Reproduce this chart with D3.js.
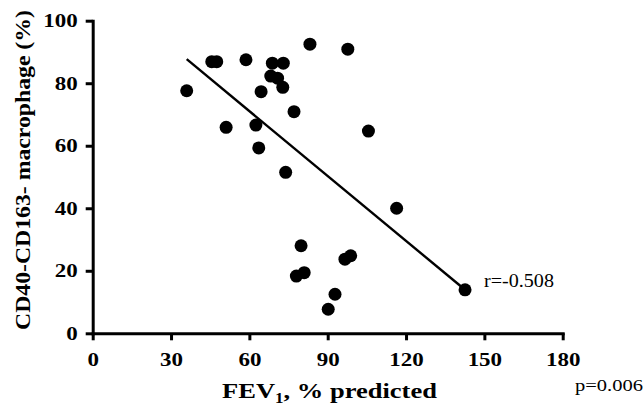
<!DOCTYPE html>
<html>
<head>
<meta charset="utf-8">
<script src="https://cdn.jsdelivr.net/npm/d3@7"></script>
<style>
  html, body { margin: 0; padding: 0; background: #fff; }
  svg { display: block; }
  text { font-family: "Liberation Serif", Tinos, "Times New Roman", Times, serif; fill: #000; }
</style>
</head>
<body>
<script>
// FEV1 (% predicted) against CD40-CD163- macrophage share (%)
const fev1 = [36.0, 45.6, 47.5, 58.7, 68.8, 73.0, 83.2, 68.2, 70.8, 72.8,
              64.5, 77.1, 51.1, 62.5, 63.6, 73.9, 97.7, 105.6, 116.4, 142.6,
              79.8, 78.0, 81.0, 96.6, 98.8, 92.8, 90.2];
const macrophage = [77.6, 86.9, 86.9, 87.5, 86.4, 86.4, 92.5, 82.3, 81.6, 78.7,
                    77.3, 70.9, 65.9, 66.6, 59.3, 51.5, 90.9, 64.7, 40.0, 13.9,
                    28.0, 18.3, 19.4, 23.7, 24.8, 12.5, 7.7];
const xTicks = [0, 30, 60, 90, 120, 150, 180];
const yTicks = [0, 20, 40, 60, 80, 100];
// Linear regression line: y = intercept + slope * x
const fitSlope = -0.692;
const fitIntercept = 112.6;
const rLabel = "r=-0.508";
const pLabel = "p=0.006";

const W = 643, H = 405;
const svg = d3.select("body").append("svg").attr("width", W).attr("height", H);

const x = d3.scaleLinear().domain([0, 180]).range([92.7, 562.7]);
const y = d3.scaleLinear().domain([0, 100]).range([333.3, 20.7]);

// horizontal scale factor that brings a text node to a given width
const widthFactor = (node, target) => target / node.getComputedTextLength();

// X axis
const gx = svg.append("g")
  .attr("transform", `translate(0,${y(0)})`)
  .call(d3.axisBottom(x).tickValues(xTicks).tickSize(7).tickSizeOuter(0).tickPadding(12));
// Y axis
const gy = svg.append("g")
  .attr("transform", `translate(${x(0)},0)`)
  .call(d3.axisLeft(y).tickValues(yTicks).tickSize(7).tickSizeOuter(0).tickPadding(8));

[gx, gy].forEach(g => {
  g.attr("font-family", null);
  g.select(".domain").attr("stroke", "#000").attr("stroke-width", 3).attr("stroke-linecap", "square");
  g.selectAll(".tick line").attr("stroke", "#000").attr("stroke-width", 3);
  g.selectAll(".tick text")
    .attr("font-size", 19).attr("font-weight", "bold").attr("fill", "#000");
});
// three-digit labels are about 34px wide
const tickStretch = widthFactor(gy.selectAll(".tick text").filter(d => d === 100).node(), 34.5);
gx.selectAll(".tick text").attr("transform", `scale(${tickStretch},1)`);
gy.selectAll(".tick text").attr("x", -15 / tickStretch).attr("transform", `scale(${tickStretch},1)`);

// Regression line across the observed FEV1 range
const xr = d3.extent(fev1);
svg.append("line")
  .attr("x1", x(xr[0])).attr("y1", y(fitIntercept + fitSlope * xr[0]))
  .attr("x2", x(xr[1])).attr("y2", y(fitIntercept + fitSlope * xr[1]))
  .attr("stroke", "#000").attr("stroke-width", 2.4);

// Points
svg.append("g").selectAll("circle")
  .data(fev1.map((v, i) => [v, macrophage[i]]))
  .join("circle")
  .attr("cx", d => x(d[0])).attr("cy", d => y(d[1]))
  .attr("r", 6.5).attr("fill", "#000");

// Axis titles
const xtG = svg.append("g");
const xt = xtG.append("text").attr("text-anchor", "middle")
  .attr("font-size", 22).attr("font-weight", "bold");
xt.append("tspan").text("FEV");
xt.append("tspan").attr("font-size", 14).attr("dy", 5).text("1");
xt.append("tspan").attr("dy", -5).text(", % predicted");
xtG.attr("transform", `translate(329.5,398) scale(${widthFactor(xt.node(), 215)},1)`);

const ytG = svg.append("g");
const yt = ytG.append("text").attr("text-anchor", "middle")
  .attr("font-size", 20).attr("font-weight", "bold")
  .text("CD40-CD163- macrophage (%)");
ytG.attr("transform", `translate(30,170) rotate(-90) scale(${widthFactor(yt.node(), 320)},1)`);

// Statistics
const rG = svg.append("g");
const rT = rG.append("text").attr("font-size", 18).text(rLabel);
rG.attr("transform", `translate(484,286.5) scale(${widthFactor(rT.node(), 70)},1)`);
const pG = svg.append("g");
const pT = pG.append("text").attr("font-size", 16).text(pLabel);
pG.attr("transform", `translate(575,390.5) scale(${widthFactor(pT.node(), 68)},1)`);
</script>
</body>
</html>
